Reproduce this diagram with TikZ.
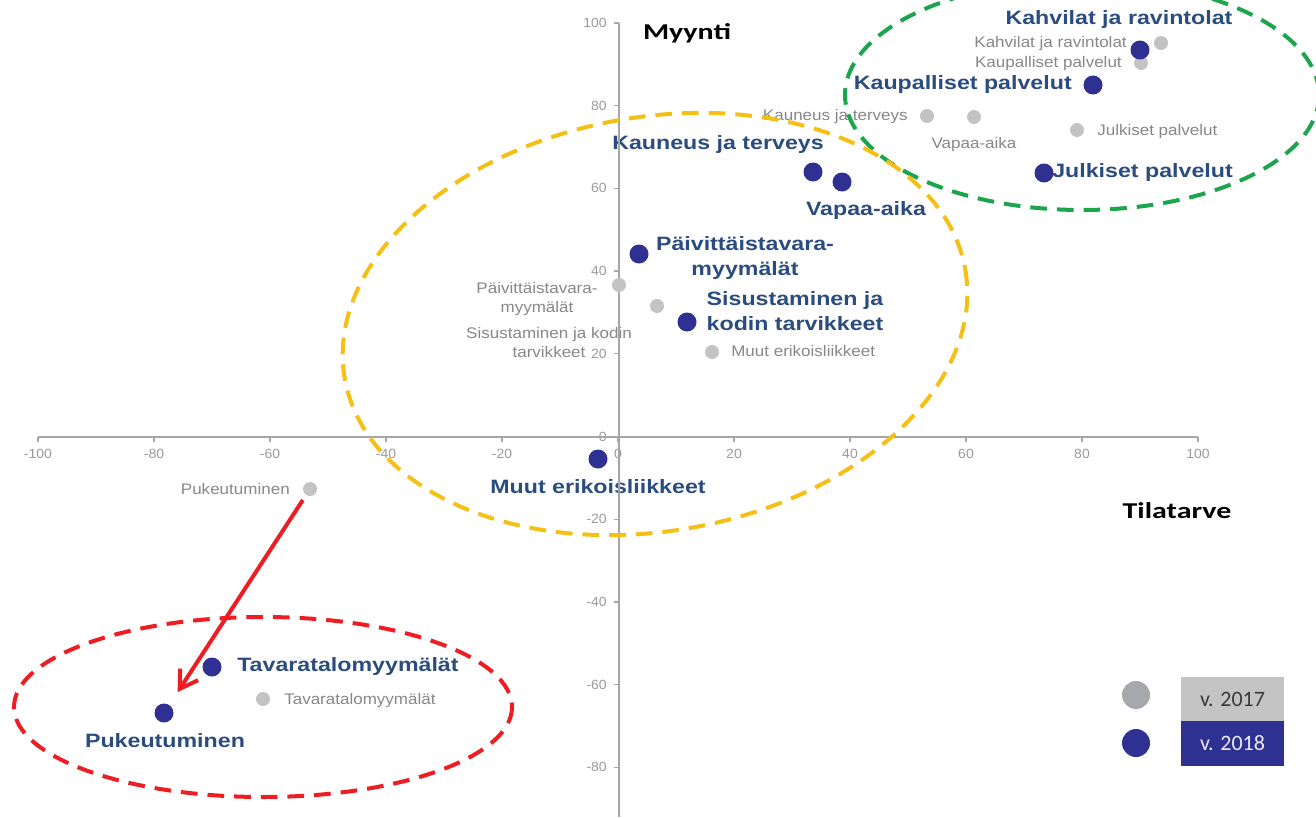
\documentclass[tikz,border=0pt]{standalone}
\usepackage{fontspec}
\setmainfont{Liberation Sans}
\newfontfamily\calib{Carlito}
\usepackage{graphicx}
\usetikzlibrary{arrows.meta}
\definecolor{dotblue}{HTML}{2E3192}
\definecolor{labblue}{HTML}{2B4C7E}
\definecolor{dotgray}{HTML}{C3C3C3}
\definecolor{labgray}{HTML}{878787}
\definecolor{axisgray}{HTML}{A6A6A6}
\definecolor{ticklab}{HTML}{9A9A9A}
\definecolor{ellgreen}{HTML}{1DA54E}
\definecolor{ellyellow}{HTML}{F5BF16}
\definecolor{ellred}{HTML}{EE1D24}
\definecolor{leggray}{HTML}{A7A8AD}
\definecolor{legboxgray}{HTML}{C4C4C4}
\definecolor{legtext}{HTML}{3A3A3A}
\definecolor{legwhite}{HTML}{ECECF8}
\newcommand\sxb[1]{\scalebox{1.2}[1]{#1}}
\newcommand\sxg[1]{\scalebox{1.11}[1]{#1}}
\newcommand\sxa[1]{\scalebox{1.05}[1]{#1}}
\newcommand\sxt[1]{\scalebox{1.32}[1]{#1}}
\tikzset{
  gdot/.style={circle, fill=dotgray, inner sep=0pt, minimum size=10.5pt},
  bdot/.style={circle, fill=dotblue, inner sep=0pt, minimum size=14.25pt},
  blab/.style={text=labblue, font=\bfseries\fontsize{14.5}{18.75}\selectfont, inner sep=0pt, align=center, text height=0.68em, text depth=0pt},
  glab/.style={text=labgray, font=\fontsize{11.5}{14.25}\selectfont, inner sep=0pt, align=center, text height=0.68em, text depth=0pt},
  axlab/.style={text=ticklab, font=\fontsize{10}{12}\selectfont, inner sep=0pt, text height=0.68em, text depth=0pt},
  axisline/.style={draw=axisgray, line width=1.5pt},
  ticks/.style={draw=axisgray, line width=1pt},
  ell/.style={line width=3pt, dash pattern=on 12.5pt off 7.5pt},
  redarrow/.style={draw=ellred, line width=3pt, -{Straight Barb[length=13pt, width=16pt]}},
  title/.style={font=\calib\bfseries\fontsize{17}{20}\selectfont, text=black, inner sep=0pt},
  legbox/.style={inner sep=0pt, minimum width=77.25pt, font=\calib\fontsize{16.5}{19}\selectfont},
  legdot/.style={circle, inner sep=0pt, minimum size=21pt}
}
\begin{document}
\begin{tikzpicture}[x=0.75pt, y=-0.75pt]
\useasboundingbox (0,0) rectangle (1316,817);
\clip (0,0) rectangle (1316,817);

% tick labels
\foreach \v [count=\i] in {-100,-80,...,100}
  \node[axlab] (xl\i) at ({618+5.8*\v},454) {\sxa{\v}};
\foreach \v [count=\i] in {100,80,...,-80}
  \node[axlab, anchor=east] (yl\i) at (607,{436.5-4.135*\v}) {\sxa{\v}};

% 2017 labels (gray)
\node[glab, anchor=east] (tg1) at (1127,43) {\sxg{Kahvilat ja ravintolat}};
\node[glab, anchor=east] (tg2) at (1122,63) {\sxg{Kaupalliset palvelut}};
\node[glab, anchor=east] (tg3) at (908,116) {\sxg{Kauneus ja terveys}};
\node[glab] (tg4) at (974,144) {\sxg{Vapaa-aika}};
\node[glab, anchor=west] (tg5) at (1097,131) {\sxg{Julkiset palvelut}};
\node[glab, text depth=14.25pt] (tg6) at (537,317.5) {\sxg{Päivittäistavara-}\\\sxg{myymälät}};
\node[glab, text depth=14.25pt] (tg7) at (549,362) {\sxg{Sisustaminen ja kodin}\\\sxg{tarvikkeet}};
\node[glab, anchor=west] (tg8) at (731,352) {\sxg{Muut erikoisliikkeet}};
\node[glab, anchor=east] (tg9) at (290,490) {\sxg{Pukeutuminen}};
\node[glab, anchor=west] (tg10) at (284,700) {\sxg{Tavaratalomyymälät}};

% 2018 labels (blue)
\node[blab] (tb1) at (1119,20) {\sxb{Kahvilat ja ravintolat}};
\node[blab, anchor=east] (tb2) at (1072,85) {\sxb{Kaupalliset palvelut}};
\node[blab] (tb3) at (718,145) {\sxb{Kauneus ja terveys}};
\node[blab] (tb4) at (866,211) {\sxb{Vapaa-aika}};
\node[blab, anchor=west] (tb5) at (1052,173) {\sxb{Julkiset palvelut}};
\node[blab, text depth=18.75pt] (tb6) at (745,283.5) {\sxb{Päivittäistavara-}\\\sxb{myymälät}};
\node[blab, text depth=18.75pt] (tb7) at (795,338) {\sxb{Sisustaminen ja}\\\sxb{kodin tarvikkeet}};
\node[blab] (tb8) at (598,489) {\sxb{Muut erikoisliikkeet}};
\node[blab, anchor=west] (tb9) at (237,667) {\sxb{Tavaratalomyymälät}};
\node[blab] (tb10) at (165,743) {\sxb{Pukeutuminen}};

% axes
\coordinate (xa0) at (38,436.5);
\coordinate (xa1) at (1198,436.5);
\coordinate (ya0) at (619,23);
\coordinate (ya1) at (619,817);
\draw[axisline] (xa0) -- (xa1);
\draw[axisline] (ya0) -- (ya1);
\foreach \v in {-100,-80,...,100}
  \draw[ticks] ({618+5.8*\v},436.5) -- ++(0,5);
\foreach \v in {100,80,...,-80}
  \draw[ticks] (619,{436.5-4.135*\v}) -- ++(-5,0);

% axis titles
\node[title] (myynti) at (687,33) {\sxt{Myynti}};
\node[title] (tilatarve) at (1177,511) {\sxt{Tilatarve}};

% 2017 dots
\node[gdot] (g1) at (1161,43) {};
\node[gdot] (g2) at (1141,63) {};
\node[gdot] (g3) at (927,116) {};
\node[gdot] (g4) at (974,117) {};
\node[gdot] (g5) at (1077,130) {};
\node[gdot] (g6) at (619,285) {};
\node[gdot] (g7) at (657,306) {};
\node[gdot] (g8) at (712,352) {};
\node[gdot] (g9) at (310,489) {};
\node[gdot] (g10) at (263,699) {};

% 2018 dots
\node[bdot] (b1) at (1140,50) {};
\node[bdot] (b2) at (1093,85) {};
\node[bdot] (b3) at (813,172) {};
\node[bdot] (b4) at (842,182) {};
\node[bdot] (b5) at (1044,173) {};
\node[bdot] (b6) at (639,254) {};
\node[bdot] (b7) at (687,322) {};
\node[bdot] (b8) at (598,459) {};
\node[bdot] (b9) at (212,667) {};
\node[bdot] (b10) at (164,713) {};

% ellipses
\draw[ell, draw=ellgreen] (1082,95) ellipse [x radius=237, y radius=115];
\draw[ell, draw=ellyellow, rotate around={10:(655,324)}] (655,324) ellipse [x radius=315, y radius=207];
\draw[ell, draw=ellred] (263,707) ellipse [x radius=249, y radius=90];

% arrow
\draw[redarrow, shorten <=4.4pt, shorten >=11.4pt] (g9) -- (b10);

% legend
\node[legdot, fill=leggray] (lg) at (1136,695) {};
\node[legdot, fill=dotblue] (lb) at (1136,743) {};
\node[legbox, fill=legboxgray, text=legtext, minimum height=33pt] (lt1) at (1232.5,699) {v. 2017};
\node[legbox, fill=dotblue, text=legwhite, minimum height=33.75pt] (lt2) at (1232.5,743.5) {v. 2018};
\end{tikzpicture}
\end{document}
